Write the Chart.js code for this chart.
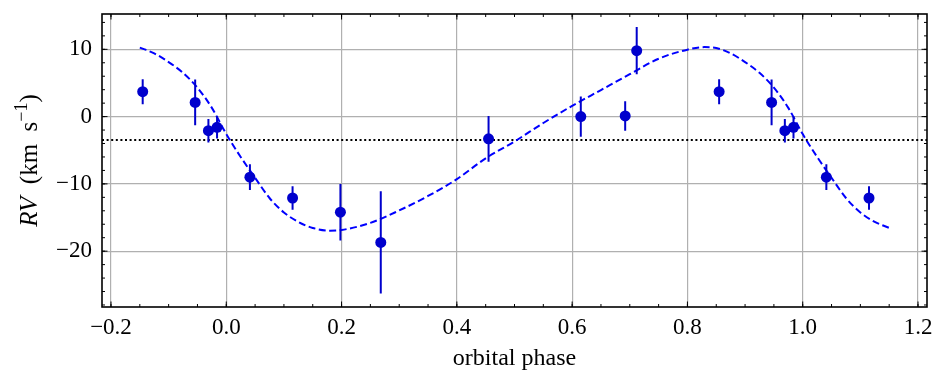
<!DOCTYPE html>
<html>
<head>
<meta charset="utf-8">
<script src="https://cdn.jsdelivr.net/npm/chart.js@4/dist/chart.umd.min.js"></script>
<style>
  html, body { margin: 0; padding: 0; background: #fff; }
  #chart { display: block; }
</style>
</head>
<body>
<canvas id="chart" width="948" height="382"></canvas>
<script>
// observed RVs, phase-folded (points near 0/1 are shown twice)
const phase = [-0.145, -0.054, -0.031, -0.016, 0.041, 0.115, 0.198, 0.268, 0.455,
  0.615, 0.692, 0.712, 0.855, 0.946, 0.969, 0.984, 1.041, 1.115];
const rv = [3.7, 2.1, -2.1, -1.6, -9.0, -12.1, -14.2, -18.7, -3.3,
  0.0, 0.1, 9.8, 3.7, 2.1, -2.1, -1.6, -9.0, -12.1];
const rvErr = [1.85, 3.4, 1.75, 1.65, 1.9, 1.75, 4.2, 7.6, 3.4,
  3.0, 2.2, 3.5, 1.85, 3.4, 1.75, 1.65, 1.9, 1.75];

// orbit model
const modelPhase = [-0.15, -0.125, -0.1, -0.075, -0.05, -0.025, 0, 0.025, 0.05, 0.075,
  0.1, 0.125, 0.15, 0.18, 0.2, 0.25, 0.3, 0.35, 0.4, 0.45, 0.5, 0.55, 0.6, 0.65, 0.7,
  0.75, 0.8, 0.83, 0.85, 0.875, 0.9, 0.925, 0.95, 0.975, 1.0, 1.025, 1.05, 1.075,
  1.1, 1.125, 1.15];
const modelRv = [10.25, 9.4, 8.1, 6.5, 4.3, 1.3, -2.6, -6.0, -9.1, -12.1,
  -14.25, -15.65, -16.55, -16.95, -16.85, -15.8, -13.95, -11.8, -9.3, -6.2, -3.7, -0.95,
  1.6, 3.95, 6.3, 8.6, 9.95, 10.33, 10.2, 9.4, 8.1, 6.5, 4.3, 1.3, -2.6, -6.0, -9.1,
  -12.1, -14.25, -15.65, -16.55];

const gamma = -3.47;

const xTicks = [-0.2, 0.0, 0.2, 0.4, 0.6, 0.8, 1.0, 1.2];
const yTicks = [-20, -10, 0, 10];
const xMinorStep = 0.05;
const yMinorStep = 2;

const xMin = -0.2156, xMax = 1.2156;
const yMin = -28.3, yMax = 15.25;

const FONT = 'Liberation Serif';
const tickFont = { family: FONT, size: 23 };

function fmt(v, digits) {
  return Number(v).toFixed(digits).replace('-', '\u2212');
}

const errData = [];
phase.forEach((p, i) => {
  errData.push({ x: p, y: rv[i] - rvErr[i] });
  errData.push({ x: p, y: rv[i] + rvErr[i] });
  errData.push({ x: p, y: null });
});

const frame = {
  id: 'frame',
  afterDraw(chart) {
    const { ctx, chartArea: a, scales: { x, y } } = chart;
    ctx.save();
    ctx.strokeStyle = '#000';

    // inward ticks on all four sides
    ctx.lineWidth = 1;
    const tick = (px, len, horiz) => {
      ctx.beginPath();
      if (horiz) {
        ctx.moveTo(px, a.bottom); ctx.lineTo(px, a.bottom - len);
        ctx.moveTo(px, a.top); ctx.lineTo(px, a.top + len);
      } else {
        ctx.moveTo(a.left, px); ctx.lineTo(a.left + len, px);
        ctx.moveTo(a.right, px); ctx.lineTo(a.right - len, px);
      }
      ctx.stroke();
    };
    for (let k = Math.ceil(xMin / xMinorStep); k * xMinorStep <= xMax; k++) {
      tick(x.getPixelForValue(k * xMinorStep), 3, true);
    }
    for (let k = Math.ceil(yMin / yMinorStep); k * yMinorStep <= yMax; k++) {
      tick(y.getPixelForValue(k * yMinorStep), 3, false);
    }
    xTicks.forEach(v => tick(x.getPixelForValue(v), 5.5, true));
    yTicks.forEach(v => tick(y.getPixelForValue(v), 5.5, false));

    // spines
    ctx.lineWidth = 1.6;
    ctx.strokeRect(a.left, a.top, a.right - a.left, a.bottom - a.top);

    // y axis title: RV (km s^-1)
    const size = 25;
    const parts = [
      { t: 'RV', font: `italic ${size}px "${FONT}"`, dy: 0 },
      { t: '  (km  s', font: `${size}px "${FONT}"`, dy: 0 },
      { t: '\u22121', font: `${Math.round(size * 0.7)}px "${FONT}"`, dy: -10 },
      { t: ')', font: `${size}px "${FONT}"`, dy: 0 }
    ];
    let total = 0;
    parts.forEach(p => { ctx.font = p.font; p.w = ctx.measureText(p.t).width; total += p.w; });
    ctx.translate(37, (a.top + a.bottom) / 2);
    ctx.rotate(-Math.PI / 2);
    ctx.fillStyle = '#000';
    ctx.textBaseline = 'alphabetic';
    let cx = -total / 2;
    parts.forEach(p => {
      ctx.font = p.font;
      ctx.fillText(p.t, cx, p.dy);
      cx += p.w;
    });
    ctx.restore();
  }
};

new Chart(document.getElementById('chart'), {
  type: 'scatter',
  data: {
    datasets: [
      {
        data: phase.map((p, i) => ({ x: p, y: rv[i] })),
        pointRadius: 5.5,
        pointHoverRadius: 5.5,
        backgroundColor: '#0000cd',
        borderWidth: 0,
        order: 1
      },
      {
        data: errData,
        showLine: true,
        spanGaps: false,
        borderColor: '#0000cd',
        borderWidth: 2,
        pointRadius: 0,
        order: 2
      },
      {
        data: modelPhase.map((p, i) => ({ x: p, y: modelRv[i] })),
        showLine: true,
        borderColor: '#0000ff',
        borderWidth: 2,
        borderDash: [7, 3.5],
        cubicInterpolationMode: 'monotone',
        pointRadius: 0,
        order: 3
      },
      {
        data: [{ x: xMin, y: gamma }, { x: xMax, y: gamma }],
        showLine: true,
        borderColor: '#000',
        borderWidth: 2,
        borderDash: [2, 2.6],
        pointRadius: 0,
        order: 4
      }
    ]
  },
  options: {
    responsive: false,
    animation: false,
    events: [],
    layout: { padding: { top: 14, right: 21, left: 0, bottom: 0 } },
    plugins: { legend: { display: false }, tooltip: { enabled: false } },
    scales: {
      x: {
        type: 'linear',
        min: xMin,
        max: xMax,
        afterBuildTicks: s => { s.ticks = xTicks.map(v => ({ value: v })); },
        afterFit: s => { s.height = 75; s.paddingLeft = 0; s.paddingRight = 0; },
        grid: { color: '#b0b0b0', lineWidth: 1.2, drawTicks: false },
        border: { display: false },
        ticks: {
          font: tickFont, color: '#000', padding: 7, maxRotation: 0, autoSkip: false,
          callback: v => fmt(v, 1)
        },
        title: {
          display: true, text: 'orbital phase', color: '#000',
          font: { family: FONT, size: 24 }, padding: { top: 0, bottom: 9 }
        }
      },
      y: {
        type: 'linear',
        min: yMin,
        max: yMax,
        afterBuildTicks: s => { s.ticks = yTicks.map(v => ({ value: v })); },
        afterFit: s => { s.width = 102; s.paddingTop = 0; s.paddingBottom = 0; },
        grid: { color: '#b0b0b0', lineWidth: 1.2, drawTicks: false },
        border: { display: false },
        ticks: {
          font: tickFont, color: '#000', padding: 10,
          callback: v => fmt(v, 0)
        }
      }
    }
  },
  plugins: [frame]
});
</script>
</body>
</html>
